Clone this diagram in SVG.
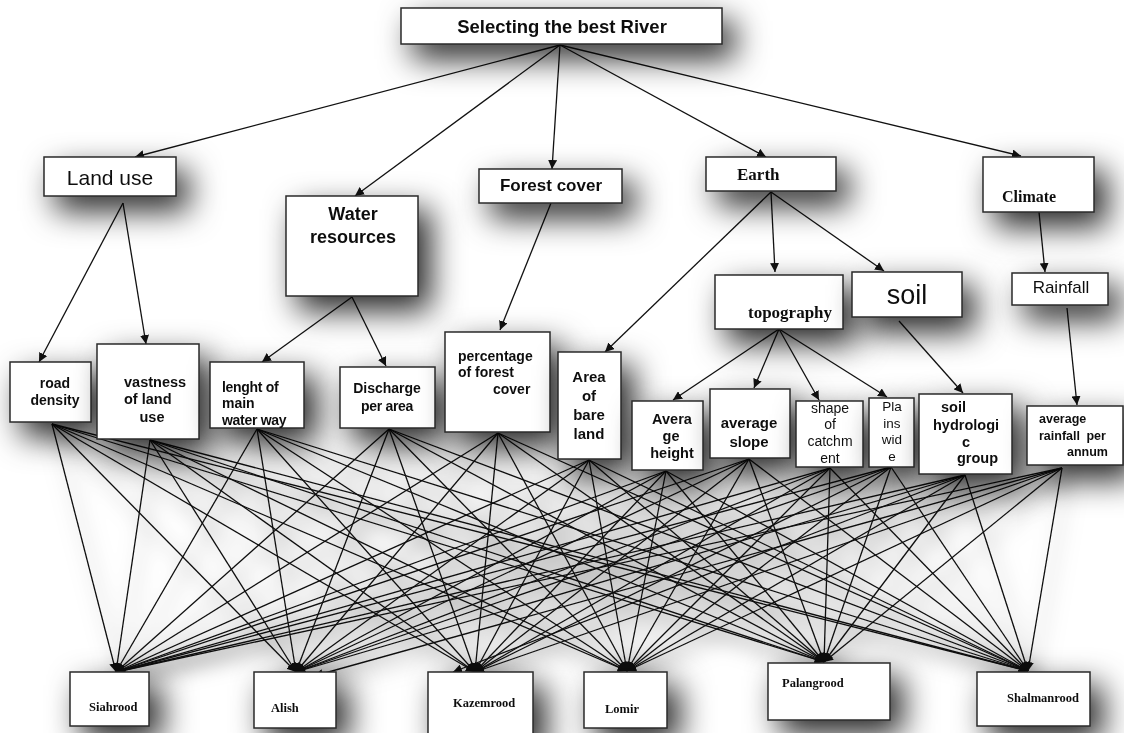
<svg xmlns="http://www.w3.org/2000/svg" width="1124" height="733" viewBox="0 0 1124 733">
  <defs>
    <filter id="shadow" filterUnits="userSpaceOnUse" x="-80" y="-80" width="1284" height="893">
      <feDropShadow dx="12" dy="14" stdDeviation="16" flood-color="#000" flood-opacity="0.85"/>
    </filter>
    <filter id="lineShadow" filterUnits="userSpaceOnUse" x="-80" y="-80" width="1284" height="893">
      <feDropShadow dx="6" dy="9" stdDeviation="10" flood-color="#000" flood-opacity="0.6"/>
    </filter>
    <marker id="arr" viewBox="0 0 10 10" refX="10" refY="5" markerWidth="9" markerHeight="9" orient="auto" markerUnits="userSpaceOnUse">
      <path d="M0,0 L10,5 L0,10 z" fill="#111"/>
    </marker>
    <style>
      .box { fill: #fff; stroke: #2a2a2a; stroke-width: 1.5; }
      .sans { font-family: "Liberation Sans", Arial, sans-serif; fill: #111; }
      .serif { font-family: "Liberation Serif", "Times New Roman", serif; font-weight: bold; fill: #111; }
      .b { font-weight: bold; }
      .c { text-anchor: middle; }
      .edge line { stroke: #111; stroke-width: 1.3; marker-end: url(#arr); }
    </style>
  </defs>

  <rect width="1124" height="733" fill="#fff"/>

  <!-- connectors -->
  <g id="connectors">
    <g class="edge">
      <!-- goal to criteria -->
      <line x1="560" y1="45" x2="135" y2="157"/>
      <line x1="560" y1="45" x2="355" y2="196"/>
      <line x1="560" y1="45" x2="552" y2="169"/>
      <line x1="560" y1="45" x2="766" y2="157"/>
      <line x1="560" y1="45" x2="1021" y2="156"/>
      <!-- criteria to sub-criteria -->
      <line x1="123" y1="203" x2="39" y2="362"/>
      <line x1="123" y1="203" x2="146" y2="344"/>
      <line x1="352" y1="297" x2="262" y2="362"/>
      <line x1="352" y1="297" x2="386" y2="366"/>
      <line x1="551" y1="203" x2="500" y2="330"/>
      <line x1="771" y1="192" x2="605" y2="352"/>
      <line x1="771" y1="192" x2="775" y2="272"/>
      <line x1="771" y1="192" x2="884" y2="271"/>
      <line x1="779" y1="329" x2="673" y2="400"/>
      <line x1="779" y1="329" x2="754" y2="388"/>
      <line x1="779" y1="329" x2="819" y2="400"/>
      <line x1="779" y1="329" x2="887" y2="397"/>
      <line x1="899" y1="321" x2="963" y2="393"/>
      <line x1="1039" y1="212" x2="1045" y2="272"/>
      <line x1="1067" y1="308" x2="1077" y2="405"/>
    </g>
    <g class="edge" filter="url(#lineShadow)">
      <!-- road density -->
      <line x1="52" y1="424" x2="116" y2="672"/>
      <line x1="52" y1="424" x2="296" y2="672"/>
      <line x1="52" y1="424" x2="475" y2="672"/>
      <line x1="52" y1="424" x2="627" y2="671"/>
      <line x1="52" y1="424" x2="824" y2="662"/>
      <line x1="52" y1="424" x2="1028" y2="671"/>
      <!-- vastness of land use -->
      <line x1="150" y1="440" x2="116" y2="672"/>
      <line x1="150" y1="440" x2="296" y2="672"/>
      <line x1="150" y1="440" x2="475" y2="672"/>
      <line x1="150" y1="440" x2="627" y2="671"/>
      <line x1="150" y1="440" x2="824" y2="662"/>
      <line x1="150" y1="440" x2="1028" y2="671"/>
      <!-- length of main water way -->
      <line x1="257" y1="429" x2="116" y2="672"/>
      <line x1="257" y1="429" x2="296" y2="672"/>
      <line x1="257" y1="429" x2="475" y2="672"/>
      <line x1="257" y1="429" x2="627" y2="671"/>
      <line x1="257" y1="429" x2="824" y2="662"/>
      <line x1="257" y1="429" x2="1028" y2="671"/>
      <!-- discharge per area -->
      <line x1="389" y1="429" x2="116" y2="672"/>
      <line x1="389" y1="429" x2="296" y2="672"/>
      <line x1="389" y1="429" x2="475" y2="672"/>
      <line x1="389" y1="429" x2="627" y2="671"/>
      <line x1="389" y1="429" x2="824" y2="662"/>
      <line x1="389" y1="429" x2="1028" y2="671"/>
      <!-- percentage of forest cover -->
      <line x1="498" y1="433" x2="116" y2="672"/>
      <line x1="498" y1="433" x2="296" y2="672"/>
      <line x1="498" y1="433" x2="475" y2="672"/>
      <line x1="498" y1="433" x2="627" y2="671"/>
      <line x1="498" y1="433" x2="824" y2="662"/>
      <line x1="498" y1="433" x2="1028" y2="671"/>
      <!-- area of bare land -->
      <line x1="589" y1="460" x2="116" y2="672"/>
      <line x1="589" y1="460" x2="296" y2="672"/>
      <line x1="589" y1="460" x2="475" y2="672"/>
      <line x1="589" y1="460" x2="627" y2="671"/>
      <line x1="589" y1="460" x2="824" y2="662"/>
      <line x1="589" y1="460" x2="1028" y2="671"/>
      <!-- average height -->
      <line x1="666" y1="471" x2="116" y2="672"/>
      <line x1="666" y1="471" x2="296" y2="672"/>
      <line x1="666" y1="471" x2="475" y2="672"/>
      <line x1="666" y1="471" x2="627" y2="671"/>
      <line x1="666" y1="471" x2="824" y2="662"/>
      <line x1="666" y1="471" x2="1028" y2="671"/>
      <!-- average slope -->
      <line x1="749" y1="459" x2="116" y2="672"/>
      <line x1="749" y1="459" x2="296" y2="672"/>
      <line x1="749" y1="459" x2="475" y2="672"/>
      <line x1="749" y1="459" x2="627" y2="671"/>
      <line x1="749" y1="459" x2="824" y2="662"/>
      <line x1="749" y1="459" x2="1028" y2="671"/>
      <!-- shape of catchment -->
      <line x1="830" y1="468" x2="116" y2="672"/>
      <line x1="830" y1="468" x2="296" y2="672"/>
      <line x1="830" y1="468" x2="475" y2="672"/>
      <line x1="830" y1="468" x2="627" y2="671"/>
      <line x1="830" y1="468" x2="824" y2="662"/>
      <line x1="830" y1="468" x2="1028" y2="671"/>
      <!-- plains wide -->
      <line x1="891" y1="467" x2="116" y2="672"/>
      <line x1="891" y1="467" x2="296" y2="672"/>
      <line x1="891" y1="467" x2="475" y2="672"/>
      <line x1="891" y1="467" x2="627" y2="671"/>
      <line x1="891" y1="467" x2="824" y2="662"/>
      <line x1="891" y1="467" x2="1028" y2="671"/>
      <!-- soil hydrologic group -->
      <line x1="965" y1="475" x2="116" y2="672"/>
      <line x1="965" y1="475" x2="296" y2="672"/>
      <line x1="965" y1="475" x2="453" y2="672"/>
      <line x1="965" y1="475" x2="627" y2="671"/>
      <line x1="965" y1="475" x2="824" y2="662"/>
      <line x1="965" y1="475" x2="1028" y2="671"/>
      <!-- average rainfall per annum -->
      <line x1="1062" y1="468" x2="116" y2="672"/>
      <line x1="1062" y1="468" x2="314" y2="676"/>
      <line x1="1062" y1="468" x2="475" y2="672"/>
      <line x1="1062" y1="468" x2="627" y2="671"/>
      <line x1="1062" y1="468" x2="824" y2="662"/>
      <line x1="1062" y1="468" x2="1028" y2="671"/>
    </g>
  </g>

  <!-- goal -->
  <g id="goal" filter="url(#shadow)">
    <rect class="box" x="401" y="8" width="321" height="36"/>
    <text class="sans b c" x="562" y="33" font-size="18.5">Selecting the best River</text>
  </g>

  <!-- criteria -->
  <g id="land-use" filter="url(#shadow)">
    <rect class="box" x="44" y="157" width="132" height="39"/>
    <text class="sans c" x="110" y="185" font-size="21">Land use</text>
  </g>
  <g id="water-resources" filter="url(#shadow)">
    <rect class="box" x="286" y="196" width="132" height="100"/>
    <text class="sans b c" x="353" y="220" font-size="18">Water</text>
    <text class="sans b c" x="353" y="243" font-size="18">resources</text>
  </g>
  <g id="forest-cover" filter="url(#shadow)">
    <rect class="box" x="479" y="169" width="143" height="34"/>
    <text class="sans b c" x="551" y="191" font-size="17">Forest cover</text>
  </g>
  <g id="earth" filter="url(#shadow)">
    <rect class="box" x="706" y="157" width="130" height="34"/>
    <text class="serif" x="737" y="180" font-size="17">Earth</text>
  </g>
  <g id="climate" filter="url(#shadow)">
    <rect class="box" x="983" y="157" width="111" height="55"/>
    <text class="serif" x="1002" y="202" font-size="16">Climate</text>
  </g>
  <g id="topography" filter="url(#shadow)">
    <rect class="box" x="715" y="275" width="128" height="54"/>
    <text class="serif" x="748" y="318" font-size="17">topography</text>
  </g>
  <g id="soil" filter="url(#shadow)">
    <rect class="box" x="852" y="272" width="110" height="45"/>
    <text class="sans c" x="907" y="304" font-size="27">soil</text>
  </g>
  <g id="rainfall" filter="url(#shadow)">
    <rect class="box" x="1012" y="273" width="96" height="32"/>
    <text class="sans c" x="1061" y="293" font-size="17">Rainfall</text>
  </g>

  <!-- sub-criteria -->
  <g id="road-density" filter="url(#shadow)">
    <rect class="box" x="10" y="362" width="81" height="60"/>
    <text class="sans b c" x="55" y="388" font-size="14">road</text>
    <text class="sans b c" x="55" y="405" font-size="14">density</text>
  </g>
  <g id="vastness" filter="url(#shadow)">
    <rect class="box" x="97" y="344" width="102" height="95"/>
    <text class="sans b" x="124" y="387" font-size="14.5">vastness</text>
    <text class="sans b" x="124" y="404" font-size="14.5">of land</text>
    <text class="sans b c" x="152" y="422" font-size="14.5">use</text>
  </g>
  <g id="waterway-length" filter="url(#shadow)">
    <rect class="box" x="210" y="362" width="94" height="66"/>
    <text class="sans b" x="222" y="392" font-size="14" letter-spacing="-0.3">lenght of</text>
    <text class="sans b" x="222" y="408" font-size="14">main</text>
    <text class="sans b" x="222" y="425" font-size="14" letter-spacing="-0.3">water way</text>
  </g>
  <g id="discharge" filter="url(#shadow)">
    <rect class="box" x="340" y="367" width="95" height="61"/>
    <text class="sans b c" x="387" y="393" font-size="14">Discharge</text>
    <text class="sans b c" x="387" y="411" font-size="14" letter-spacing="-0.3">per area</text>
  </g>
  <g id="forest-percentage" filter="url(#shadow)">
    <rect class="box" x="445" y="332" width="105" height="100"/>
    <text class="sans b" x="458" y="361" font-size="14">percentage</text>
    <text class="sans b" x="458" y="377" font-size="14">of forest</text>
    <text class="sans b" x="493" y="394" font-size="14">cover</text>
  </g>
  <g id="bare-land" filter="url(#shadow)">
    <rect class="box" x="558" y="352" width="63" height="107"/>
    <text class="sans b c" x="589" y="382" font-size="15">Area</text>
    <text class="sans b c" x="589" y="401" font-size="15">of</text>
    <text class="sans b c" x="589" y="420" font-size="15">bare</text>
    <text class="sans b c" x="589" y="439" font-size="15">land</text>
  </g>
  <g id="average-height" filter="url(#shadow)">
    <rect class="box" x="632" y="401" width="71" height="69"/>
    <text class="sans b c" x="672" y="424" font-size="14.5">Avera</text>
    <text class="sans b c" x="671" y="441" font-size="14.5">ge</text>
    <text class="sans b c" x="672" y="458" font-size="14.5">height</text>
  </g>
  <g id="average-slope" filter="url(#shadow)">
    <rect class="box" x="710" y="389" width="80" height="69"/>
    <text class="sans b c" x="749" y="428" font-size="15">average</text>
    <text class="sans b c" x="749" y="447" font-size="15">slope</text>
  </g>
  <g id="catchment-shape" filter="url(#shadow)">
    <rect class="box" x="796" y="401" width="67" height="66"/>
    <text class="sans c" x="830" y="413" font-size="14">shape</text>
    <text class="sans c" x="830" y="429" font-size="14">of</text>
    <text class="sans c" x="830" y="446" font-size="14">catchm</text>
    <text class="sans c" x="830" y="463" font-size="14">ent</text>
  </g>
  <g id="plains-wide" filter="url(#shadow)">
    <rect class="box" x="869" y="398" width="45" height="69"/>
    <text class="sans c" x="892" y="411" font-size="13.5">Pla</text>
    <text class="sans c" x="892" y="428" font-size="13.5">ins</text>
    <text class="sans c" x="892" y="444" font-size="13.5">wid</text>
    <text class="sans c" x="892" y="461" font-size="13.5">e</text>
  </g>
  <g id="soil-hydrologic-group" filter="url(#shadow)">
    <rect class="box" x="919" y="394" width="93" height="80"/>
    <text class="sans b" x="941" y="412" font-size="14.5">soil</text>
    <text class="sans b c" x="966" y="430" font-size="14.5">hydrologi</text>
    <text class="sans b c" x="966" y="447" font-size="14.5">c</text>
    <text class="sans b" x="957" y="463" font-size="14.5">group</text>
  </g>
  <g id="average-rainfall" filter="url(#shadow)">
    <rect class="box" x="1027" y="406" width="96" height="59"/>
    <text class="sans b" x="1039" y="423" font-size="12.5">average</text>
    <text class="sans b" x="1039" y="440" font-size="12.5" word-spacing="3">rainfall per</text>
    <text class="sans b" x="1067" y="456" font-size="12.5">annum</text>
  </g>

  <!-- alternatives -->
  <g id="siahrood" filter="url(#shadow)">
    <rect class="box" x="70" y="672" width="79" height="54"/>
    <text class="serif" x="89" y="711" font-size="12.5">Siahrood</text>
  </g>
  <g id="alish" filter="url(#shadow)">
    <rect class="box" x="254" y="672" width="82" height="56"/>
    <text class="serif" x="271" y="712" font-size="12.5">Alish</text>
  </g>
  <g id="kazemrood" filter="url(#shadow)">
    <rect class="box" x="428" y="672" width="105" height="70"/>
    <text class="serif" x="453" y="707" font-size="12.5">Kazemrood</text>
  </g>
  <g id="lomir" filter="url(#shadow)">
    <rect class="box" x="584" y="672" width="83" height="56"/>
    <text class="serif" x="605" y="713" font-size="12.5">Lomir</text>
  </g>
  <g id="palangrood" filter="url(#shadow)">
    <rect class="box" x="768" y="663" width="122" height="57"/>
    <text class="serif" x="782" y="687" font-size="12.5">Palangrood</text>
  </g>
  <g id="shalmanrood" filter="url(#shadow)">
    <rect class="box" x="977" y="672" width="113" height="54"/>
    <text class="serif" x="1007" y="702" font-size="12.5">Shalmanrood</text>
  </g>
</svg>
